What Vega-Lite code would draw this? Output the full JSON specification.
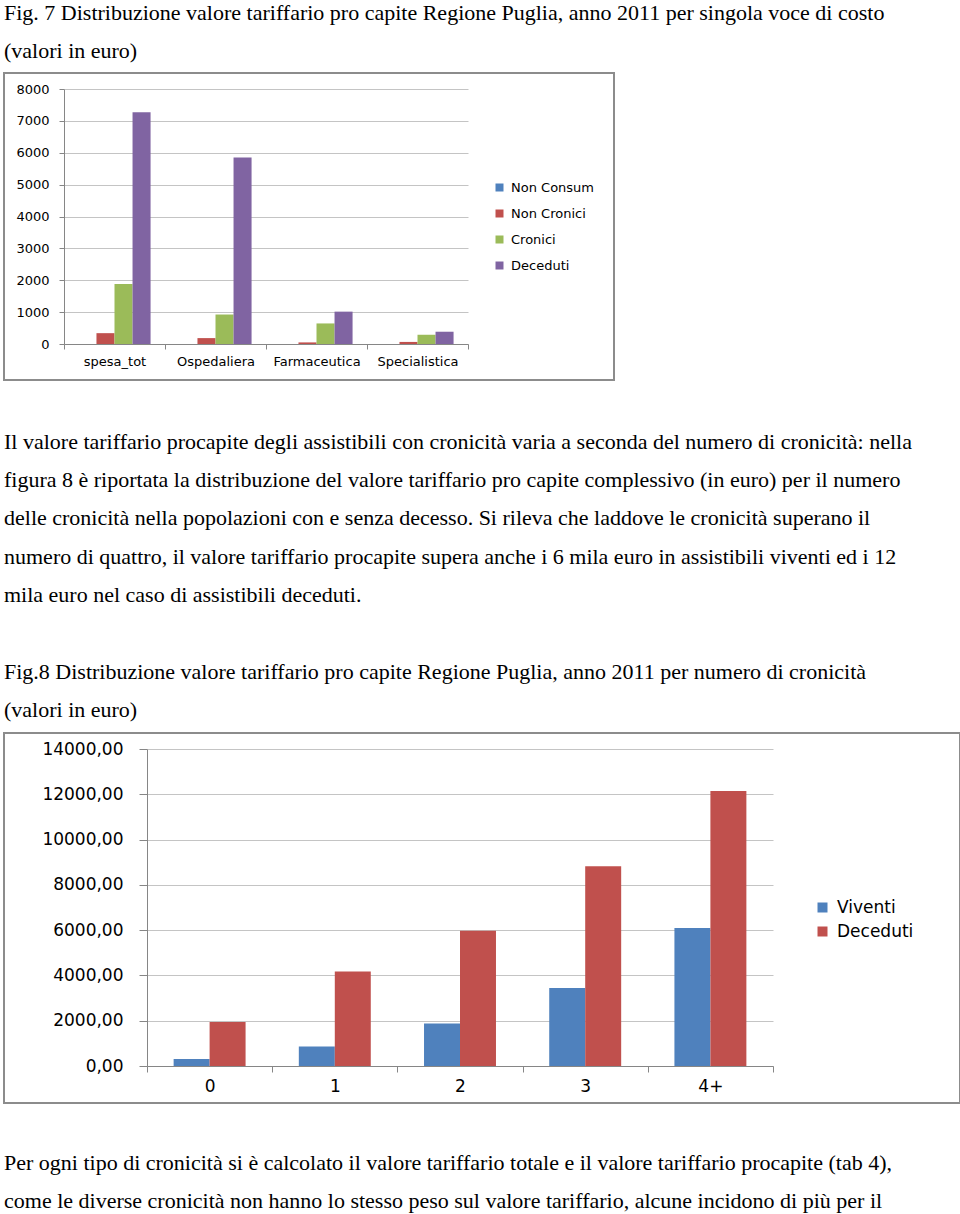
{
  "$schema": "https://vega.github.io/schema/vega-lite/v6.json",
  "padding": {"left": 3, "top": 0, "right": 0, "bottom": 0},
  "background": "white",
  "spacing": 48,
  "config": {
    "locale": {"number": {"decimal": ",", "thousands": ".", "grouping": [3], "currency": ["", " €"]}},
    "title": {"font": "Liberation Serif", "fontSize": 22, "fontWeight": "normal", "color": "#000000", "anchor": "start", "lineHeight": 38.3, "frame": "group"},
    "view": {"stroke": "#8c8c8c", "strokeWidth": 2, "fill": "white"},
    "axis": {"labelFont": "DejaVu Sans", "labelColor": "#000000", "domainColor": "#868686", "tickColor": "#868686", "gridColor": "#c4c4c4", "title": null},
    "legend": {"labelFont": "DejaVu Sans", "labelColor": "#000000", "symbolType": "square", "symbolStrokeWidth": 0}
  },
  "resolve": {"scale": {"color": "independent", "xOffset": "independent"}, "legend": {"color": "independent"}},
  "vconcat": [
    {
      "width": 610,
      "height": 307,
      "title": {"text": ["Fig. 7 Distribuzione valore tariffario pro capite  Regione Puglia, anno 2011 per singola voce di costo", "(valori in euro)"], "offset": 10},
      "data": {"values": [
        {"voce": "spesa_tot", "gruppo": "Non Consum", "valore": 0},
        {"voce": "spesa_tot", "gruppo": "Non Cronici", "valore": 340},
        {"voce": "spesa_tot", "gruppo": "Cronici", "valore": 1880},
        {"voce": "spesa_tot", "gruppo": "Deceduti", "valore": 7270},
        {"voce": "Ospedaliera", "gruppo": "Non Consum", "valore": 0},
        {"voce": "Ospedaliera", "gruppo": "Non Cronici", "valore": 185},
        {"voce": "Ospedaliera", "gruppo": "Cronici", "valore": 925},
        {"voce": "Ospedaliera", "gruppo": "Deceduti", "valore": 5850},
        {"voce": "Farmaceutica", "gruppo": "Non Consum", "valore": 0},
        {"voce": "Farmaceutica", "gruppo": "Non Cronici", "valore": 50},
        {"voce": "Farmaceutica", "gruppo": "Cronici", "valore": 645},
        {"voce": "Farmaceutica", "gruppo": "Deceduti", "valore": 1015},
        {"voce": "Specialistica", "gruppo": "Non Consum", "valore": 0},
        {"voce": "Specialistica", "gruppo": "Non Cronici", "valore": 65},
        {"voce": "Specialistica", "gruppo": "Cronici", "valore": 290},
        {"voce": "Specialistica", "gruppo": "Deceduti", "valore": 385}
      ]},
      "mark": {"type": "bar"},
      "encoding": {
        "x": {"field": "voce", "type": "nominal", "sort": ["spesa_tot", "Ospedaliera", "Farmaceutica", "Specialistica"],
          "scale": {"range": [60, 464], "paddingInner": 0, "paddingOuter": 0},
          "axis": {"labelAngle": 0, "offset": -36, "tickBand": "extent", "tickSize": 5, "labelPadding": 6, "labelFontSize": 13, "grid": false}},
        "xOffset": {"field": "gruppo", "type": "nominal", "sort": ["Non Consum", "Non Cronici", "Cronici", "Deceduti"],
          "scale": {"paddingInner": 0, "paddingOuter": 0.8}},
        "y": {"field": "valore", "type": "quantitative",
          "scale": {"domain": [0, 8000], "range": [271, 16], "nice": false},
          "axis": {"offset": -60, "values": [0, 1000, 2000, 3000, 4000, 5000, 6000, 7000, 8000], "format": "d", "grid": true, "tickSize": 5, "labelPadding": 10, "labelFontSize": 13}},
        "color": {"field": "gruppo", "type": "nominal",
          "scale": {"domain": ["Non Consum", "Non Cronici", "Cronici", "Deceduti"], "range": ["#4F81BD", "#C0504D", "#9BBB59", "#8064A2"]},
          "legend": {"title": null, "orient": "none", "legendX": 489, "legendY": 108, "labelFontSize": 13, "symbolSize": 64, "rowPadding": 12, "labelOffset": 5}}
      }
    },
    {
      "width": 956,
      "height": 370,
      "title": {"text": [
        "Il valore tariffario procapite degli assistibili con cronicità varia a seconda del numero di cronicità: nella",
        "figura 8 è riportata la distribuzione del valore tariffario pro capite complessivo (in euro) per il numero",
        "delle cronicità nella popolazioni con e senza decesso. Si rileva che laddove le cronicità superano il",
        "numero di quattro, il valore tariffario procapite supera anche i 6 mila euro in assistibili viventi ed i 12",
        "mila euro nel caso di assistibili deceduti.",
        "\u200b",
        "Fig.8 Distribuzione valore tariffario pro capite  Regione Puglia, anno 2011 per numero di cronicità",
        "(valori in euro)"
      ], "offset": 11},
      "data": {"values": [
        {"cronicita": "0", "stato": "Viventi", "valore": 310},
        {"cronicita": "0", "stato": "Deceduti", "valore": 1940},
        {"cronicita": "1", "stato": "Viventi", "valore": 860},
        {"cronicita": "1", "stato": "Deceduti", "valore": 4170},
        {"cronicita": "2", "stato": "Viventi", "valore": 1880},
        {"cronicita": "2", "stato": "Deceduti", "valore": 5970},
        {"cronicita": "3", "stato": "Viventi", "valore": 3450},
        {"cronicita": "3", "stato": "Deceduti", "valore": 8820},
        {"cronicita": "4+", "stato": "Viventi", "valore": 6090},
        {"cronicita": "4+", "stato": "Deceduti", "valore": 12150}
      ]},
      "mark": {"type": "bar"},
      "encoding": {
        "x": {"field": "cronicita", "type": "nominal", "sort": ["0", "1", "2", "3", "4+"],
          "scale": {"range": [143, 769], "paddingInner": 0, "paddingOuter": 0},
          "axis": {"labelAngle": 0, "offset": -37, "tickBand": "extent", "tickSize": 6, "labelPadding": 6, "labelFontSize": 17, "grid": false}},
        "xOffset": {"field": "stato", "type": "nominal", "sort": ["Viventi", "Deceduti"],
          "scale": {"paddingInner": 0, "paddingOuter": 0.74}},
        "y": {"field": "valore", "type": "quantitative",
          "scale": {"domain": [0, 14000], "range": [333, 16], "nice": false},
          "axis": {"offset": -143, "values": [0, 2000, 4000, 6000, 8000, 10000, 12000, 14000], "format": ".2f", "grid": true, "tickSize": 8, "labelPadding": 16, "labelFontSize": 17}},
        "color": {"field": "stato", "type": "nominal",
          "scale": {"domain": ["Viventi", "Deceduti"], "range": ["#4F81BD", "#C0504D"]},
          "legend": {"title": null, "orient": "none", "legendX": 810, "legendY": 166, "labelFontSize": 17, "symbolSize": 100, "rowPadding": 6, "labelOffset": 6}}
      }
    },
    {
      "width": 956,
      "height": 1,
      "view": {"stroke": null, "fill": null},
      "title": {"text": [
        "Per ogni tipo di cronicità si è calcolato il valore tariffario totale e il valore tariffario procapite (tab 4),",
        "come le diverse cronicità non hanno lo stesso peso sul valore tariffario, alcune incidono di più per il"
      ], "orient": "bottom", "offset": -12},
      "data": {"values": []},
      "mark": {"type": "text"},
      "encoding": {}
    }
  ]
}
